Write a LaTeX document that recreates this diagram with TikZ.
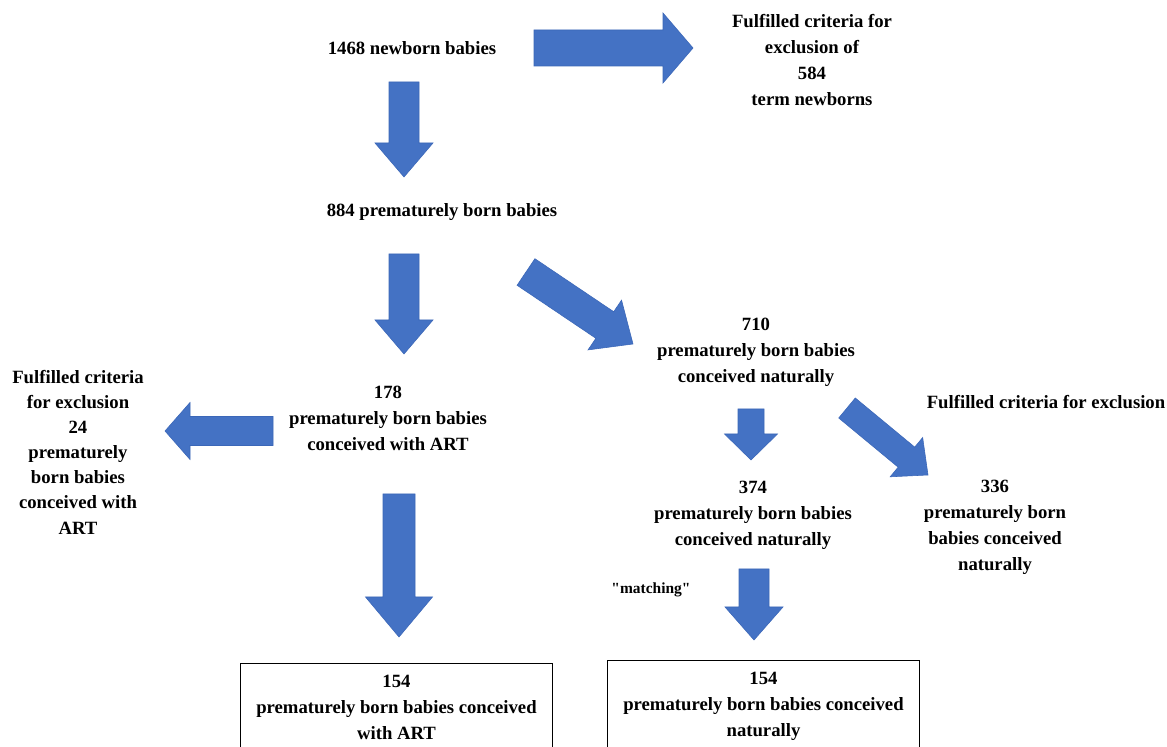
\documentclass[tikz,border=0pt]{standalone}
\usepackage{fontspec}
\setmainfont{Liberation Serif}
\usepackage{tikz}
\usetikzlibrary{calc}
\definecolor{arrowblue}{HTML}{4472C4}
\definecolor{arrowedge}{HTML}{3B67B8}

% block arrow: tail, tip, shaft half width, head half width, head length (in px)
\newcommand{\blockarrow}[5]{%
  \pgfmathsetlengthmacro{\shafthw}{#3*0.025cm}%
  \pgfmathsetlengthmacro{\headhw}{#4*0.025cm}%
  \pgfmathsetlengthmacro{\headlen}{#5*0.025cm}%
  \coordinate (headbase) at ($(#2)!\headlen!(#1)$);
  \filldraw[fill=arrowblue, draw=arrowedge, line width=0.4pt]
    ($(#1)!\shafthw!90:(#2)$) -- ($(headbase)!\shafthw!90:(#2)$)
    -- ($(headbase)!\headhw!90:(#2)$) -- (#2)
    -- ($(headbase)!\headhw!-90:(#2)$) -- ($(headbase)!\shafthw!-90:(#2)$)
    -- ($(#1)!\shafthw!-90:(#2)$) -- cycle;
}

\begin{document}
\begin{tikzpicture}[x=0.025cm, y=-0.025cm,
    every node/.style={font=\fontsize{13.3}{18.5}\selectfont\bfseries, align=center}]
        \clip (0,0) rectangle (1167,747);
        \fill[white] (0,0) rectangle (1167,747);

        % text nodes
        \node (newborn) at (412, 48) {1468 newborn babies};
        \node (termexcl) at (812, 60) {Fulfilled criteria for\\exclusion of\\584\\term newborns};
        \node (premature) at (442, 212) {884 prematurely born babies};
        \node (natural) at (756, 352) {710\\prematurely born babies\\conceived naturally};
        \node (art) at (388, 418) {178\\prematurely born babies\\conceived with ART};
        \node[font=\fontsize{13.3}{17.9}\selectfont\bfseries] (artexcl) at (78, 452)
            {Fulfilled criteria\\for exclusion\\24\\prematurely\\born babies\\conceived with\\ART};
        \node (natexcltitle) at (1046, 402) {Fulfilled criteria for exclusion};
        \node (natsel) at (753, 515) {374\\prematurely born babies\\conceived naturally};
        \node (natexcl) at (995, 527) {336\\prematurely born\\babies conceived\\naturally};
        \node[font=\fontsize{11}{14}\selectfont\bfseries] (matching) at (651, 590)
            {\textquotedbl matching\textquotedbl};

        % final boxes
        \node[draw, line width=0.6pt, minimum width=7.78cm, inner ysep=8.6pt, anchor=north] (artfinal) at (396.5, 663)
            {154\\prematurely born babies conceived\\with ART};
        \node[draw, line width=0.6pt, minimum width=7.78cm, inner ysep=8.6pt, anchor=north] (natfinal) at (763.5, 660)
            {154\\prematurely born babies conceived\\naturally};

        % arrow ends
        \coordinate (a1s) at (534, 48);  \coordinate (a1e) at (693, 48);
        \coordinate (a2s) at (404, 82);  \coordinate (a2e) at (404, 177);
        \coordinate (a3s) at (404, 254); \coordinate (a3e) at (404, 354);
        \coordinate (a4s) at (526, 272); \coordinate (a4e) at (633, 344);
        \coordinate (a5s) at (273, 431); \coordinate (a5e) at (165, 431);
        \coordinate (a6s) at (751, 409); \coordinate (a6e) at (751, 460);
        \coordinate (a7s) at (847, 408); \coordinate (a7e) at (928, 475);
        \coordinate (a8s) at (399, 494); \coordinate (a8e) at (399, 637);
        \coordinate (a9s) at (754, 569); \coordinate (a9e) at (754, 640);

        \blockarrow{a1s}{a1e}{18}{35}{30}
        \blockarrow{a2s}{a2e}{15}{29}{34}
        \blockarrow{a3s}{a3e}{15}{29}{34}
        \blockarrow{a4s}{a4e}{16}{30}{34}
        \blockarrow{a5s}{a5e}{14.5}{28.5}{25}
        \blockarrow{a6s}{a6e}{13}{26.5}{26}
        \blockarrow{a7s}{a7e}{13}{25.5}{28}
        \blockarrow{a8s}{a8e}{16}{33.5}{40}
        \blockarrow{a9s}{a9e}{15}{29}{33}
    \end{tikzpicture}
\end{document}
